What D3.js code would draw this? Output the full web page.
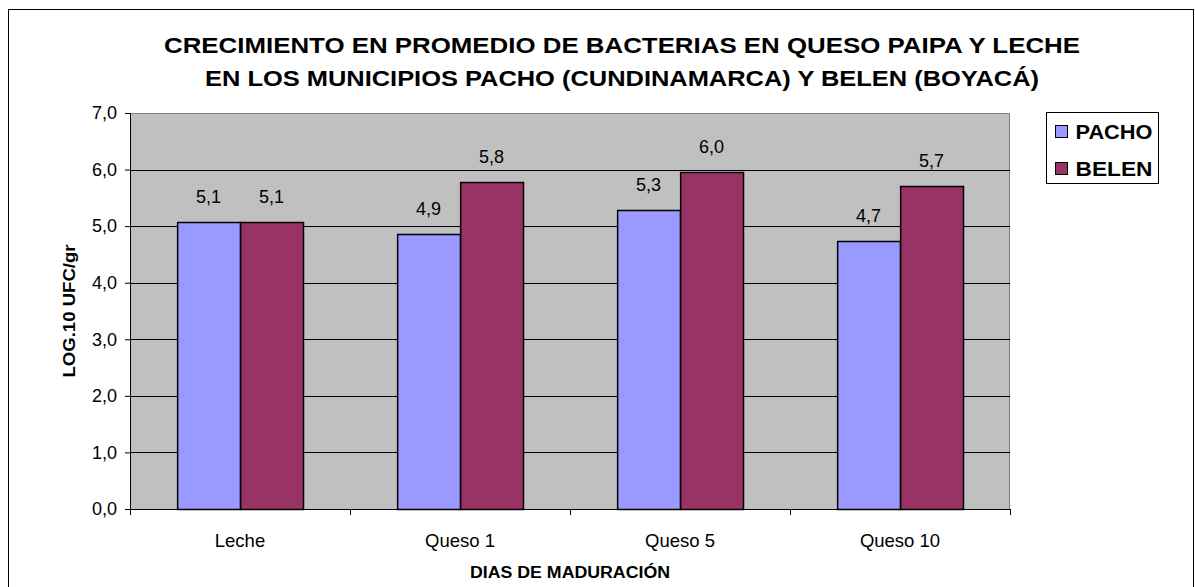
<!DOCTYPE html>
<html>
<head>
<meta charset="utf-8">
<script src="https://cdn.jsdelivr.net/npm/d3@7"></script>
<style>
  body { margin: 0; background: #fff; }
  text { font-family: "Liberation Sans", Arial, sans-serif; fill: #000; }
</style>
</head>
<body>
<script>
var svgWidth = 1195;
var svgHeight = 587;

// DATA
var categories = ["Leche", "Queso 1", "Queso 5", "Queso 10"];
var seriesNames = ["PACHO", "BELEN"];
var pacho = [5.07, 4.86, 5.29, 4.73];
var belen = [5.07, 5.78, 5.96, 5.71];
var yTicks = [0, 1, 2, 3, 4, 5, 6, 7];
var colors = ["#9999FF", "#993366"];

var titleLines = [
  "CRECIMIENTO EN PROMEDIO DE BACTERIAS EN QUESO PAIPA Y LECHE",
  "EN LOS MUNICIPIOS PACHO (CUNDINAMARCA) Y BELEN (BOYACÁ)"
];
var titleWidths = [916, 834];

var margin = { top: 113, right: 185, bottom: 78, left: 130 };
var chartWidth = svgWidth - margin.left - margin.right;
var chartHeight = svgHeight - margin.top - margin.bottom;

var svg = d3.select("body")
  .append("svg")
  .attr("width", svgWidth)
  .attr("height", svgHeight);

// outer frame
svg.append("rect")
  .attr("x", 8.5).attr("y", 9.5)
  .attr("width", 1185).attr("height", 600)
  .attr("fill", "#fff").attr("stroke", "#000");

var chartGroup = svg.append("g")
  .attr("transform", `translate(${margin.left}, ${margin.top})`);

// SCALES
var x0 = d3.scaleBand()
  .domain(categories)
  .range([0, chartWidth])
  .paddingInner(0.4286)
  .paddingOuter(0.2143);

var x1 = d3.scaleBand()
  .domain(seriesNames)
  .range([0, x0.bandwidth()]);

var yScale = d3.scaleLinear().domain([0, 7]).range([chartHeight, 0]);

// plot area
chartGroup.append("rect")
  .attr("width", chartWidth).attr("height", chartHeight)
  .attr("fill", "#C0C0C0");

chartGroup.append("path")
  .attr("d", `M0.5,0.5H${chartWidth - 0.5}V${chartHeight}`)
  .attr("fill", "none").attr("stroke", "#808080");

// gridlines
chartGroup.selectAll(".grid")
  .data(yTicks.slice(1, -1))
  .enter().append("line")
  .attr("x1", 0).attr("x2", chartWidth)
  .attr("y1", d => Math.round(yScale(d)) + 0.5)
  .attr("y2", d => Math.round(yScale(d)) + 0.5)
  .attr("stroke", "#000");

// BARS
var rows = categories.map((c, i) => ({ cat: c, vals: [pacho[i], belen[i]] }));

var groups = chartGroup.selectAll(".grp")
  .data(rows)
  .enter().append("g")
  .attr("transform", d => `translate(${x0(d.cat)},0)`);

groups.selectAll("rect")
  .data(d => d.vals.map((v, j) => ({ name: seriesNames[j], v: v, j: j })))
  .enter().append("rect")
  .attr("x", d => Math.round(x1(d.name)) + 0.5)
  .attr("y", d => Math.round(yScale(d.v)) + 0.5)
  .attr("width", x1.bandwidth())
  .attr("height", d => chartHeight - Math.round(yScale(d.v)))
  .attr("fill", d => colors[d.j])
  .attr("stroke", "#000")
  .attr("stroke-width", 1.5);

groups.selectAll(".lbl")
  .data(d => d.vals.map((v, j) => ({ name: seriesNames[j], v: v })))
  .enter().append("text")
  .attr("x", d => x1(d.name) + x1.bandwidth() / 2)
  .attr("y", d => yScale(d.v) - 19)
  .attr("text-anchor", "middle")
  .style("font-size", "18px")
  .text(d => d3.format(".1f")(d.v).replace(".", ","));

// AXES
var leftAxis = d3.axisLeft(yScale)
  .tickValues(yTicks)
  .tickSize(5)
  .tickPadding(8)
  .tickFormat(d => d3.format(".1f")(d).replace(".", ","));

var yAxisG = chartGroup.append("g").call(leftAxis);
yAxisG.select(".domain").attr("stroke", "#000").attr("d", `M-5,0.5H0.5V${chartHeight + 0.5}`);
yAxisG.selectAll("text").style("font-size", "18px").attr("fill", "#000");

var bottomAxis = d3.axisBottom(x0).tickSize(0).tickPadding(25);
var xAxisG = chartGroup.append("g")
  .attr("transform", `translate(0, ${chartHeight})`)
  .call(bottomAxis);
xAxisG.select(".domain").attr("d", `M0,0.5H${chartWidth}`).attr("stroke", "#000");
xAxisG.selectAll("text").style("font-size", "18.5px").attr("fill", "#000");

// category boundary ticks
var bounds = categories.map(c => x0(c) - x0.step() * x0.paddingInner() / 2).concat([chartWidth]);
xAxisG.selectAll(".btick")
  .data(bounds)
  .enter().append("line")
  .attr("x1", d => Math.round(d) + 0.5).attr("x2", d => Math.round(d) + 0.5)
  .attr("y1", 0).attr("y2", 6)
  .attr("stroke", "#000");

// TITLES
svg.selectAll(".title")
  .data(titleLines)
  .enter().append("text")
  .attr("x", 622)
  .attr("y", (d, i) => 53 + i * 33)
  .attr("text-anchor", "middle")
  .attr("textLength", (d, i) => titleWidths[i])
  .attr("lengthAdjust", "spacingAndGlyphs")
  .style("font-size", "22px")
  .style("font-weight", "bold")
  .text(d => d);

svg.append("text")
  .attr("x", margin.left + chartWidth / 2)
  .attr("y", 578)
  .attr("text-anchor", "middle")
  .attr("textLength", 200)
  .attr("lengthAdjust", "spacingAndGlyphs")
  .style("font-size", "16px")
  .style("font-weight", "bold")
  .text("DIAS DE MADURACIÓN");

svg.append("text")
  .attr("transform", `translate(75, ${margin.top + chartHeight / 2}) rotate(-90)`)
  .attr("text-anchor", "middle")
  .attr("textLength", 133)
  .attr("lengthAdjust", "spacingAndGlyphs")
  .style("font-size", "17px")
  .style("font-weight", "bold")
  .text("LOG.10 UFC/gr");

// LEGEND
var legend = svg.append("g").attr("transform", "translate(1046.5, 112.5)");
legend.append("rect")
  .attr("width", 112).attr("height", 71)
  .attr("fill", "#fff").attr("stroke", "#000");

var items = legend.selectAll(".item")
  .data(seriesNames)
  .enter().append("g")
  .attr("transform", (d, i) => `translate(9, ${18 + i * 37})`);

items.append("rect")
  .attr("x", 0).attr("y", -5)
  .attr("width", 12).attr("height", 12)
  .attr("fill", (d, i) => colors[i])
  .attr("stroke", "#000");

items.append("text")
  .attr("x", 20).attr("y", 8)
  .attr("textLength", 77)
  .attr("lengthAdjust", "spacingAndGlyphs")
  .style("font-size", "21px")
  .style("font-weight", "bold")
  .text(d => d);
</script>
</body>
</html>
